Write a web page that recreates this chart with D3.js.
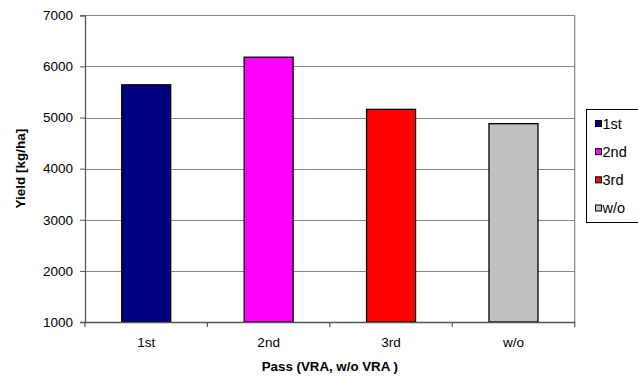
<!DOCTYPE html>
<html><head><meta charset="utf-8">
<script src="https://cdn.jsdelivr.net/npm/d3@7"></script>
<style>body{margin:0;background:#fff;} text{font-family:Arial,"Liberation Sans",sans-serif;}</style>
</head><body>
<svg id="c" width="638" height="376"></svg>
<script>
const categories = ["1st", "2nd", "3rd", "w/o"];
const values = [5640, 6180, 5160, 4880];
const colors = ["#000080", "#FF00FF", "#FF0000", "#C0C0C0"];
const yTicks = [1000, 2000, 3000, 4000, 5000, 6000, 7000];
const xTitle = "Pass (VRA, w/o VRA )";
const yTitle = "Yield [kg/ha]";

const svg = d3.select("#c");
const L = 85, R = 574.7, T = 15.3, B = 322;
const x = d3.scaleBand().domain(categories).range([L, R]);
const y = d3.scaleLinear().domain([1000, 7000]).range([B, T]);

// gridlines
svg.append("g").selectAll("line").data(yTicks).join("line")
  .attr("x1", L).attr("x2", R)
  .attr("y1", d => Math.round(y(d)) + 0.5).attr("y2", d => Math.round(y(d)) + 0.5)
  .attr("stroke", "#868686").attr("stroke-width", 1.2);
// plot border right
svg.append("line").attr("x1", R).attr("x2", R).attr("y1", T).attr("y2", B)
  .attr("stroke", "#868686").attr("stroke-width", 1.2);

// bars
const bw = x.bandwidth() * 0.4;
svg.append("g").selectAll("rect").data(categories).join("rect")
  .attr("x", (d) => x(d) + (x.bandwidth() - bw) / 2)
  .attr("width", bw)
  .attr("y", (d, i) => y(values[i]))
  .attr("height", (d, i) => B - y(values[i]))
  .attr("fill", (d, i) => colors[i])
  .attr("stroke", "#000").attr("stroke-width", 1.3);

// y axis
const yAxis = svg.append("g").attr("transform", `translate(${L},0)`)
  .call(d3.axisLeft(y).tickValues(yTicks).tickSize(5).tickPadding(7).tickFormat(d3.format("d")));
yAxis.select(".domain").attr("stroke", "#555").attr("stroke-width", 1.3);
yAxis.selectAll(".tick line").attr("stroke", "#555");
yAxis.selectAll("text").attr("font-size", 13.5).attr("fill", "#000")
  .style("font-family", "Arial, 'Liberation Sans', sans-serif");

// x axis
const xAxis = svg.append("g").attr("transform", `translate(0,${B})`)
  .call(d3.axisBottom(x).tickSize(0).tickPadding(15));
xAxis.select(".domain").attr("stroke", "#555").attr("stroke-width", 1.3);
xAxis.selectAll("text").attr("font-size", 13.5).attr("fill", "#000")
  .style("font-family", "Arial, 'Liberation Sans', sans-serif");
// x tick marks at band boundaries
const bounds = categories.map(d => x(d)).concat([R]);
svg.append("g").selectAll("line").data(bounds).join("line")
  .attr("x1", d => d).attr("x2", d => d).attr("y1", B).attr("y2", B + 5)
  .attr("stroke", "#555").attr("stroke-width", 1.2);

// axis titles
svg.append("text").attr("x", (L + R) / 2).attr("y", 371).attr("text-anchor", "middle")
  .attr("font-size", 13.3).attr("font-weight", "bold").text(xTitle);
svg.append("text").attr("transform", `translate(25,${(T + B) / 2}) rotate(-90)`)
  .attr("text-anchor", "middle").attr("font-size", 13.5).attr("font-weight", "bold").text(yTitle);

// legend
const lg = svg.append("g");
lg.append("rect").attr("x", 586.5).attr("y", 109.5).attr("width", 60).attr("height", 113)
  .attr("fill", "#fff").attr("stroke", "#000").attr("stroke-width", 1);
const rowY = d3.scalePoint().domain(categories).range([123.5, 208]);
lg.selectAll("rect.sw").data(categories).join("rect").attr("class", "sw")
  .attr("x", 595.5).attr("y", d => rowY(d) - 3).attr("width", 6).attr("height", 6)
  .attr("fill", (d, i) => colors[i]).attr("stroke", "#000").attr("stroke-width", 1);
lg.selectAll("text").data(categories).join("text")
  .attr("x", 602.5).attr("y", d => rowY(d) + 5.2).attr("font-size", 14.5).text(d => d);
</script>
</body></html>
